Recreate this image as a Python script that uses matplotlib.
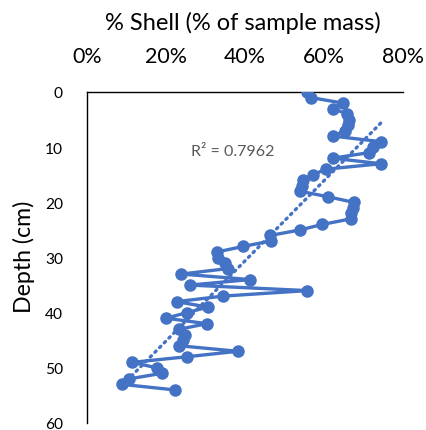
import matplotlib
matplotlib.use('Agg')
import matplotlib.pyplot as plt
import numpy as np

plt.rcParams['font.family'] = ['Lato', 'DejaVu Sans']

# depth of each sample (cm)
depth = list(range(0, 55))
# shell content (% of sample mass)
shell = [55.8, 56.6, 64.7, 62.4, 65.8, 66.4, 66.1, 65.3, 62.4, 74.4,
         72.4, 71.3, 62.2, 74.4, 60.4, 57.3, 54.8, 54.5, 54.0, 61.1,
         67.5, 67.3, 66.8, 66.8, 59.6, 54.0, 46.4, 46.6, 39.5, 32.9,
         33.1, 34.9, 35.7, 23.9, 41.3, 26.0, 55.8, 34.4, 22.7, 30.6,
         25.2, 20.1, 30.3, 23.4, 24.9, 24.4, 23.4, 38.2, 25.2, 11.5,
         17.6, 18.9, 10.7, 8.9, 22.2]

x_ticks = [0, 20, 40, 60, 80]
y_ticks = [0, 10, 20, 30, 40, 50, 60]

blue = '#4472C4'
W, H = 427, 431

fig = plt.figure(figsize=(W/100, H/100), dpi=100)
ax = fig.add_axes([87/W, 1 - 424/H, (403-87)/W, (424-93)/H])

ax.plot(shell, depth, color=blue, lw=2.4, marker='o', ms=8,
        solid_joinstyle='round', zorder=3)

# linear trendline (depth on shell), as in a spreadsheet
a, b = np.polyfit(shell, depth, 1)
xs = np.array([min(shell), max(shell)])
ax.plot(xs, a*xs + b, color=blue, lw=2.4, ls=(0, (0.5, 1.5)),
        dash_capstyle='round', zorder=2)
r2_txt = ax.text(37, 10.7, 'R² = 0.7962', color='#595959', fontsize=10,
                 ha='center', va='center')

ax.set_xlim(0, 80)
ax.set_ylim(60, 0)
ax.set_xticks(x_ticks)
ax.set_xticklabels(['%d%%' % v for v in x_ticks])
ax.set_yticks(y_ticks)
ax.xaxis.tick_top()
ax.tick_params(axis='x', length=0, pad=20, labelsize=14, colors='black')
ax.tick_params(axis='y', length=0, pad=20, labelsize=10, colors='black')

title = fig.text(243/W, 1 - 23/H, '% Shell (% of sample mass)', fontsize=16,
                 ha='center', va='center')
ylab = fig.text(24/W, 1 - 257/H, 'Depth (cm)', fontsize=16, rotation=90,
                ha='center', va='center')

for s in ['right', 'bottom']:
    ax.spines[s].set_visible(False)
for s in ['top', 'left']:
    ax.spines[s].set_linewidth(1.0)
    ax.spines[s].set_color('black')

# scale the text to the sizes measured on the reference picture
r = fig.canvas.get_renderer()
title.set_fontsize(title.get_fontsize() * 277 / title.get_window_extent(r).width)
ylab.set_fontsize(ylab.get_fontsize() * 113 / ylab.get_window_extent(r).height)
r2_txt.set_fontsize(r2_txt.get_fontsize() * 83 / r2_txt.get_window_extent(r).width)

fig.canvas.draw()
xl = ax.get_xticklabels()[1]
ax.tick_params(axis='x', labelsize=14 * 42 / xl.get_window_extent(r).width)
yl = ax.get_yticklabels()[1]
ax.tick_params(axis='y', labelsize=10 * 18 / yl.get_window_extent(r).width)

fig.canvas.draw()
cy = ax.get_xticklabels()[1].get_window_extent(r).y0
cy = (cy + ax.get_xticklabels()[1].get_window_extent(r).y1) / 2
ax.tick_params(axis='x', pad=20 + (H - 57 - cy) * 0.72)
x1 = ax.get_yticklabels()[1].get_window_extent(r).x1
ax.tick_params(axis='y', pad=20 + (x1 - 63) * 0.72)

fig.savefig('out.png', dpi=100)
